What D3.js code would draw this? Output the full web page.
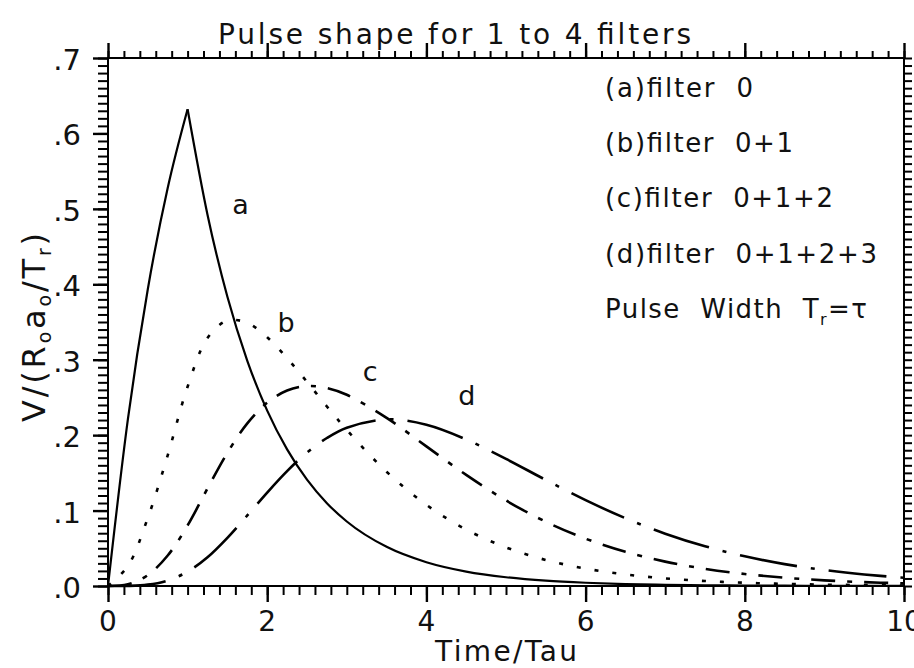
<!DOCTYPE html>
<html><head><meta charset="utf-8">
<script src="https://cdn.jsdelivr.net/npm/d3@7"></script>
<style>
body{margin:0;background:#fff}
svg{display:block}
text{font-family:"DejaVu Sans","Liberation Sans",sans-serif;fill:#111}
</style>
</head><body>
<svg id="chart" width="914" height="668"></svg>
<script>
// ---------------- data ----------------
const times   = [0,0.25,0.5,0.75,1,1.25,1.5,1.75,2,2.25,2.5,2.75,3,3.5,4,4.5,5,5.5,6,6.5,7,7.5,8,8.5,9,9.5,10];
const filterA = [0,0.2212,0.3935,0.5276,0.6321,0.4923,0.3834,0.2986,0.2325,0.1811,0.1410,0.1098,0.0855,0.0519,0.0315,0.0191,0.0116,0.0070,0.0043,0.0026,0.0016,0.0010,0.0006,0.0004,0.0002,0.0001,0.0001];
const filterB = [0,0.0265,0.0902,0.1733,0.2642,0.3289,0.3519,0.3488,0.3297,0.3021,0.2706,0.2380,0.2069,0.1514,0.1076,0.0748,0.0512,0.0345,0.0231,0.0153,0.0101,0.0066,0.0043,0.0028,0.0018,0.0012,0.0007];
const filterC = [0,0.0022,0.0144,0.0404,0.0803,0.1294,0.1767,0.2156,0.2430,0.2591,0.2651,0.2625,0.2535,0.2230,0.1851,0.1473,0.1134,0.0852,0.0627,0.0453,0.0323,0.0228,0.0159,0.0110,0.0075,0.0051,0.0035];
const filterD = [0,0.0001,0.0018,0.0073,0.0190,0.0381,0.0639,0.0935,0.1239,0.1523,0.1768,0.1962,0.2099,0.2209,0.2138,0.1943,0.1685,0.1406,0.1138,0.0899,0.0694,0.0527,0.0394,0.0290,0.0212,0.0153,0.0109];
const curveNames   = ["a","b","c","d"];
const xTickValues  = [0,2,4,6,8,10];
const xTickLabels  = ["0","2","4","6","8","10"];
const yTickValues  = [0,0.1,0.2,0.3,0.4,0.5,0.6,0.7];
const yTickLabels  = [".0",".1",".2",".3",".4",".5",".6",".7"];
const xMinorStep   = 0.2;
const yMinorStep   = 0.01;
const legendLines  = ["(a)filter  0","(b)filter  0+1","(c)filter  0+1+2","(d)filter  0+1+2+3"];
const titleText    = "Pulse shape for 1 to 4 filters";
const xTitleText   = "Time/Tau";
// curve label anchors, in data units (time, value)
const labelTimes   = [1.56, 2.13, 3.2, 4.4];
const labelValues  = [0.493, 0.337, 0.272, 0.24];

// ---------------- layout ----------------
const svg = d3.select("#chart");
const X0 = 108, X1 = 904, Y0 = 586, Y1 = 58;
const x = d3.scaleLinear().domain([0,10]).range([X0,X1]);
const y = d3.scaleLinear().domain([0,0.7]).range([Y0,Y1]);

const xMinor = d3.range(0, 51).map(i => +(i*xMinorStep).toFixed(3));
const yMinor = d3.range(0, 71).map(i => +(i*yMinorStep).toFixed(3));

function addAxis(axis, tx, ty, width) {
  const a = svg.append("g").attr("transform", `translate(${tx},${ty})`).call(axis);
  a.select(".domain").remove();
  a.selectAll(".tick line").attr("stroke", "black").attr("stroke-width", width);
  a.selectAll(".tick text").remove();
  return a;
}
addAxis(d3.axisBottom(x).tickValues(xMinor).tickSize(9).tickFormat(""), 0, Y0, 2);
addAxis(d3.axisBottom(x).tickValues(xTickValues).tickSize(16).tickFormat(""), 0, Y0, 2.4);
addAxis(d3.axisTop(x).tickValues(xMinor).tickSize(7).tickFormat(""), 0, Y1, 2);
addAxis(d3.axisTop(x).tickValues(xTickValues).tickSize(15).tickFormat(""), 0, Y1, 2.4);
addAxis(d3.axisLeft(y).tickValues(yMinor).tickSize(10).tickFormat(""), X0, 0, 2);
addAxis(d3.axisLeft(y).tickValues(yTickValues).tickSize(15).tickFormat(""), X0, 0, 2.4);
addAxis(d3.axisRight(y).tickValues(yMinor).tickSize(8).tickFormat(""), X1, 0, 2);

// frame
svg.append("rect").attr("x",X0).attr("y",Y1).attr("width",X1-X0).attr("height",Y0-Y1)
  .attr("fill","none").attr("stroke","black").attr("stroke-width",2);

// curves
const dashes = [null, "4,14", "24,12,5,12", "58,14,4,14"];
const pts = s => times.map((t,i) => [t, s[i]]);
const lineMono = d3.line().x(d=>x(d[0])).y(d=>y(d[1])).curve(d3.curveMonotoneX);
const lineCR = d3.line().x(d=>x(d[0])).y(d=>y(d[1])).curve(d3.curveCatmullRom.alpha(0.5));

const pA = pts(filterA);
const peakIdx = d3.maxIndex(filterA);
[pA.slice(0, peakIdx+1), pA.slice(peakIdx)].forEach(seg => {
  svg.append("path").attr("d", lineMono(seg))
    .attr("fill","none").attr("stroke","black").attr("stroke-width",2.2);
});
[filterB, filterC, filterD].forEach((s, k) => {
  svg.append("path").attr("d", lineCR(pts(s)))
    .attr("fill","none").attr("stroke","black").attr("stroke-width",2.6)
    .attr("stroke-dasharray", dashes[k+1]);
});

// ---------------- text ----------------
yTickValues.forEach((v,i) => {
  svg.append("text").attr("x", 81).attr("y", y(v) + 12)
    .attr("text-anchor","end").attr("font-size",29).text(yTickLabels[i]);
});
xTickValues.forEach((v,i) => {
  svg.append("text").attr("x", x(v)).attr("y", 631)
    .attr("text-anchor","middle").attr("font-size",28).text(xTickLabels[i]);
});
svg.append("text").attr("x",218).attr("y",44).attr("font-size",28)
  .attr("textLength",473).attr("lengthAdjust","spacing").text(titleText);
svg.append("text").attr("x",435).attr("y",661).attr("font-size",28)
  .attr("textLength",142).attr("lengthAdjust","spacing").text(xTitleText);
const yt = svg.append("text").attr("transform","translate(45,422) rotate(-90)")
  .attr("font-size",32).attr("textLength",189).attr("lengthAdjust","spacing");
yt.append("tspan").text("V/(R");
yt.append("tspan").attr("font-size",19).attr("dy",6).text("o");
yt.append("tspan").attr("dy",-6).text("a");
yt.append("tspan").attr("font-size",19).attr("dy",6).text("o");
yt.append("tspan").attr("dy",-6).text("/T");
yt.append("tspan").attr("font-size",19).attr("dy",6).text("r");
yt.append("tspan").attr("dy",-6).text(")");

const legendBase = [97, 152, 207, 263];
const legendWidths = [148, 188, 228, 272];
legendLines.forEach((t,i) => {
  svg.append("text").attr("x",605).attr("y",legendBase[i]).attr("font-size",26)
    .attr("textLength",legendWidths[i]).attr("lengthAdjust","spacing")
    .style("white-space","pre").text(t);
});
const pw = svg.append("text").attr("x",605).attr("y",318).attr("font-size",26)
  .attr("textLength",262).attr("lengthAdjust","spacing").style("white-space","pre");
pw.append("tspan").text("Pulse  Width  T");
pw.append("tspan").attr("font-size",16).attr("dy",7).text("r");
pw.append("tspan").attr("dy",-7).text("=τ");

curveNames.forEach((n,i) => {
  svg.append("text").attr("x", x(labelTimes[i])).attr("y", y(labelValues[i]))
    .attr("font-size",27).text(n);
});
</script>
</body></html>
